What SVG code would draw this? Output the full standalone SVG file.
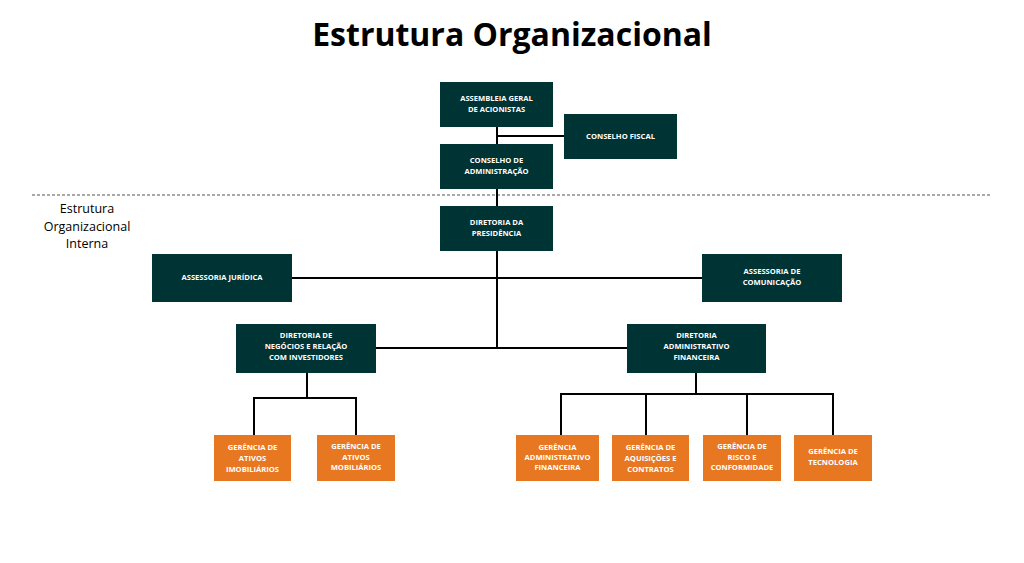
<svg xmlns="http://www.w3.org/2000/svg" width="1024" height="563" viewBox="0 0 1024 563">
<style>
.d{fill:#003333}.o{fill:#E87722}
.t{font-family:"Open Sans","Liberation Sans",sans-serif;font-weight:700;font-size:7.6px;fill:#fff;text-anchor:middle}
.c{stroke:#000;stroke-width:2;fill:none}
</style>
<rect width="1024" height="563" fill="#fff"/>
<text x="512" y="46" font-family="'Open Sans','Liberation Sans',sans-serif" font-weight="700" font-size="32" text-anchor="middle">Estrutura Organizacional</text>
<g font-family="'Open Sans','Liberation Sans',sans-serif" font-size="12.5" text-anchor="middle" fill="#000">
<text x="87" y="213">Estrutura</text><text x="87" y="231">Organizacional</text><text x="87" y="248">Interna</text>
</g>
<line x1="32" y1="195" x2="991" y2="195" stroke="#555" stroke-width="1.2" stroke-dasharray="3,2"/>
<g id="connectors" class="c">
<path d="M497 127V348M497 136H564M292 278H702M376 348H627"/>
<path d="M307 373V398M254 435V398H356V435"/>
<path d="M696 373V394M561 435V394H833V435M646 394V435M747 394V435"/>
</g>
<g id="assembleia"><rect class="d" x="440" y="82" width="113" height="45"/><text class="t" x="496.5" y="101">ASSEMBLEIA GERAL</text><text class="t" x="496.5" y="112">DE ACIONISTAS</text></g>
<g id="fiscal"><rect class="d" x="564" y="114" width="113" height="45"/><text class="t" x="620.5" y="139">CONSELHO FISCAL</text></g>
<g id="conselho"><rect class="d" x="440" y="144" width="113" height="45"/><text class="t" x="496.5" y="163">CONSELHO DE</text><text class="t" x="496.5" y="174">ADMINISTRAÇÃO</text></g>
<g id="presidencia"><rect class="d" x="440" y="206" width="113" height="45"/><text class="t" x="496.5" y="225">DIRETORIA DA</text><text class="t" x="496.5" y="236">PRESIDÊNCIA</text></g>
<g id="juridica"><rect class="d" x="152" y="254" width="140" height="48"/><text class="t" x="222" y="280">ASSESSORIA JURÍDICA</text></g>
<g id="comunicacao"><rect class="d" x="702" y="254" width="140" height="48"/><text class="t" x="772" y="274">ASSESSORIA DE</text><text class="t" x="772" y="285">COMUNICAÇÃO</text></g>
<g id="negocios"><rect class="d" x="236" y="324" width="140" height="49"/><text class="t" x="306" y="338">DIRETORIA DE</text><text class="t" x="306" y="349">NEGÓCIOS E RELAÇÃO</text><text class="t" x="306" y="360">COM INVESTIDORES</text></g>
<g id="dirfin"><rect class="d" x="627" y="324" width="139" height="49"/><text class="t" x="696.5" y="338">DIRETORIA</text><text class="t" x="696.5" y="349">ADMINISTRATIVO</text><text class="t" x="696.5" y="360">FINANCEIRA</text></g>
<g id="imob"><rect class="o" x="214" y="435" width="77" height="46"/><text class="t" x="252.5" y="450">GERÊNCIA DE</text><text class="t" x="252.5" y="461">ATIVOS</text><text class="t" x="252.5" y="472">IMOBILIÁRIOS</text></g>
<g id="mob"><rect class="o" x="317" y="435" width="78" height="46"/><text class="t" x="356" y="449">GERÊNCIA DE</text><text class="t" x="356" y="460">ATIVOS</text><text class="t" x="356" y="470">MOBILIÁRIOS</text></g>
<g id="gaf"><rect class="o" x="516" y="435" width="83" height="46"/><text class="t" x="557.5" y="450">GERÊNCIA</text><text class="t" x="557.5" y="460">ADMINISTRATIVO</text><text class="t" x="557.5" y="470">FINANCEIRA</text></g>
<g id="aquis"><rect class="o" x="612" y="435" width="77" height="46"/><text class="t" x="650.5" y="450">GERÊNCIA DE</text><text class="t" x="650.5" y="461">AQUISIÇÕES E</text><text class="t" x="650.5" y="472">CONTRATOS</text></g>
<g id="risco"><rect class="o" x="703" y="435" width="78" height="46"/><text class="t" x="742" y="449">GERÊNCIA DE</text><text class="t" x="742" y="460">RISCO E</text><text class="t" x="742" y="470">CONFORMIDADE</text></g>
<g id="tec"><rect class="o" x="794" y="435" width="78" height="46"/><text class="t" x="833" y="454">GERÊNCIA DE</text><text class="t" x="833" y="465">TECNOLOGIA</text></g>
</svg>
